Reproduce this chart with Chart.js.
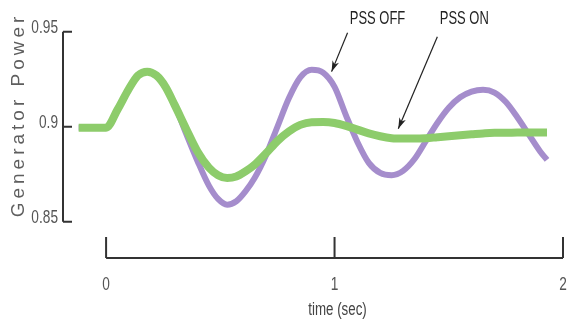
<!DOCTYPE html>
<html>
<head>
<meta charset="utf-8">
<script src="https://cdn.jsdelivr.net/npm/chart.js@4"></script>
<style>
  body { margin: 0; background: #fff; }
</style>
</head>
<body>
<canvas id="powerChart" width="567" height="324"></canvas>
<script>
// --- Data ---
const timeSec = [-0.12, 0, 0.05, 0.10, 0.14, 0.18, 0.22, 0.26, 0.30, 0.35, 0.40, 0.45, 0.49, 0.53, 0.57, 0.61,
  0.65, 0.70, 0.75, 0.80, 0.85, 0.90, 0.95, 1.00, 1.05, 1.10, 1.15, 1.20, 1.25, 1.30, 1.35, 1.40,
  1.45, 1.50, 1.55, 1.60, 1.65, 1.70, 1.75, 1.80, 1.85, 1.90, 1.93];

const pssOff = [0.8995, 0.8995, 0.909, 0.920, 0.927, 0.929, 0.927, 0.921, 0.9115, 0.8965, 0.882, 0.869, 0.862, 0.859, 0.8608, 0.8660,
  0.873, 0.885, 0.900, 0.915, 0.926, 0.930, 0.9285, 0.921, 0.906, 0.892, 0.881, 0.8757, 0.8745, 0.8768, 0.883, 0.8925,
  0.902, 0.910, 0.9155, 0.9185, 0.9195, 0.918, 0.913, 0.905, 0.896, 0.887, 0.8826];

const pssOn = [0.8995, 0.8995, 0.909, 0.920, 0.927, 0.929, 0.927, 0.921, 0.9115, 0.899, 0.887, 0.8785, 0.8745, 0.873, 0.8738, 0.8765,
  0.880, 0.886, 0.8925, 0.8975, 0.901, 0.9024, 0.9025, 0.902, 0.9005, 0.8985, 0.8965, 0.895, 0.894, 0.8938, 0.8938, 0.894,
  0.8945, 0.895, 0.8955, 0.896, 0.8965, 0.8968, 0.8968, 0.897, 0.897, 0.897, 0.897];

const xTicks = [0, 1, 2];
const yTicks = [0.85, 0.9, 0.95];

const labelFont = '"Liberation Sans", Arial, sans-serif';

const toPoints = vals => vals.map((v, i) => ({ x: timeSec[i], y: v }));

// narrow text: the original uses a condensed face, squeeze Liberation Sans
function narrowText(ctx, text, x, y, align, size, squeeze) {
  ctx.save();
  ctx.translate(x, y);
  ctx.scale(squeeze, 1);
  ctx.font = size + 'px ' + labelFont;
  ctx.textAlign = align;
  ctx.textBaseline = 'middle';
  ctx.fillText(text, 0, 0);
  ctx.restore();
}

function drawArrow(ctx, x0, y0, x1, y1) {
  ctx.beginPath();
  ctx.moveTo(x0, y0);
  ctx.lineTo(x1, y1);
  ctx.stroke();
  const a = Math.atan2(y1 - y0, x1 - x0);
  const len = 11, w = 3.5;
  ctx.beginPath();
  ctx.moveTo(x1, y1);
  ctx.lineTo(x1 - len * Math.cos(a) + w * Math.sin(a), y1 - len * Math.sin(a) - w * Math.cos(a));
  ctx.lineTo(x1 - len * 0.7 * Math.cos(a), y1 - len * 0.7 * Math.sin(a));
  ctx.lineTo(x1 - len * Math.cos(a) - w * Math.sin(a), y1 - len * Math.sin(a) + w * Math.cos(a));
  ctx.closePath();
  ctx.fill();
}

// --- Range-frame axes, labels and arrow notes ---
const rangeFrame = {
  id: 'rangeFrame',
  afterDraw(chart) {
    const { ctx, chartArea, scales: { x, y } } = chart;
    ctx.save();
    ctx.strokeStyle = '#333';
    ctx.fillStyle = '#333';
    ctx.lineWidth = 2;

    // y spine + inward ticks
    const sx = chartArea.left + 1;
    ctx.beginPath();
    ctx.moveTo(sx, y.getPixelForValue(yTicks[0]));
    ctx.lineTo(sx, y.getPixelForValue(yTicks[yTicks.length - 1]));
    yTicks.forEach(v => {
      const py = y.getPixelForValue(v);
      ctx.moveTo(sx, py);
      ctx.lineTo(sx + 9, py);
    });
    ctx.stroke();

    // x spine + upward ticks
    const sy = chartArea.bottom - 1;
    ctx.beginPath();
    ctx.moveTo(x.getPixelForValue(xTicks[0]), sy);
    ctx.lineTo(x.getPixelForValue(xTicks[xTicks.length - 1]), sy);
    xTicks.forEach(v => {
      const px = x.getPixelForValue(v);
      ctx.moveTo(px, sy);
      ctx.lineTo(px, sy - 21);
    });
    ctx.stroke();

    // tick labels
    ctx.fillStyle = '#555';
    yTicks.forEach(v => narrowText(ctx, String(v), chartArea.left - 4, y.getPixelForValue(v) - 4, 'right', 19, 0.72));
    xTicks.forEach(v => narrowText(ctx, String(v), x.getPixelForValue(v), 285, 'center', 19, 0.72));

    // axis titles
    ctx.fillStyle = '#444';
    narrowText(ctx, 'time (sec)', x.getPixelForValue(1) + 3, 310, 'center', 18, 0.74);

    ctx.save();
    ctx.translate(19, 117);
    ctx.rotate(-Math.PI / 2);
    ctx.fillStyle = '#5e5e5e';
    ctx.font = '19px ' + labelFont;
    ctx.textAlign = 'center';
    ctx.textBaseline = 'middle';
    ctx.letterSpacing = '4px';
    ctx.fillText('Generator Power', 2, 0);
    ctx.restore();

    // arrow notes
    ctx.fillStyle = '#222';
    ctx.strokeStyle = '#222';
    ctx.lineWidth = 1.2;
    narrowText(ctx, 'PSS OFF', x.getPixelForValue(1.188), y.getPixelForValue(0.9568), 'center', 18, 0.72);
    narrowText(ctx, 'PSS ON', x.getPixelForValue(1.568), y.getPixelForValue(0.9568), 'center', 18, 0.72);
    drawArrow(ctx, x.getPixelForValue(1.057), y.getPixelForValue(0.9495), x.getPixelForValue(0.987), y.getPixelForValue(0.929));
    drawArrow(ctx, x.getPixelForValue(1.450), y.getPixelForValue(0.9474), x.getPixelForValue(1.279), y.getPixelForValue(0.899));
    ctx.restore();
  }
};

// --- Chart ---
const ctx = document.getElementById('powerChart').getContext('2d');

const chart = new Chart(ctx, {
  type: 'line',
  data: {
    datasets: [
      {
        label: 'PSS ON',
        data: toPoints(pssOn),
        borderColor: '#8dcc6b',
        borderWidth: 8,
        pointRadius: 0,
        cubicInterpolationMode: 'monotone',
        order: 0
      },
      {
        label: 'PSS OFF',
        data: toPoints(pssOff),
        borderColor: '#a58dcc',
        borderWidth: 6,
        pointRadius: 0,
        cubicInterpolationMode: 'monotone',
        order: 1
      }
    ]
  },
  options: {
    responsive: false,
    animation: false,
    layout: { padding: 0 },
    plugins: { legend: { display: false }, tooltip: { enabled: false } },
    scales: {
      x: {
        type: 'linear',
        min: -0.193,
        max: 2,
        afterBuildTicks: s => { s.ticks = xTicks.map(v => ({ value: v })); },
        afterFit: s => { s.height = 65; s.paddingLeft = 0; s.paddingRight = 4; },
        grid: { display: false, drawTicks: false },
        border: { display: false },
        ticks: { display: false }
      },
      y: {
        min: 0.8304,
        max: 0.9667,
        afterBuildTicks: s => { s.ticks = yTicks.map(v => ({ value: v })); },
        afterFit: s => { s.width = 62; s.paddingTop = 0; s.paddingBottom = 0; },
        grid: { display: false, drawTicks: false },
        border: { display: false },
        ticks: { display: false }
      }
    }
  },
  plugins: [rangeFrame]
});
</script>
</body>
</html>
